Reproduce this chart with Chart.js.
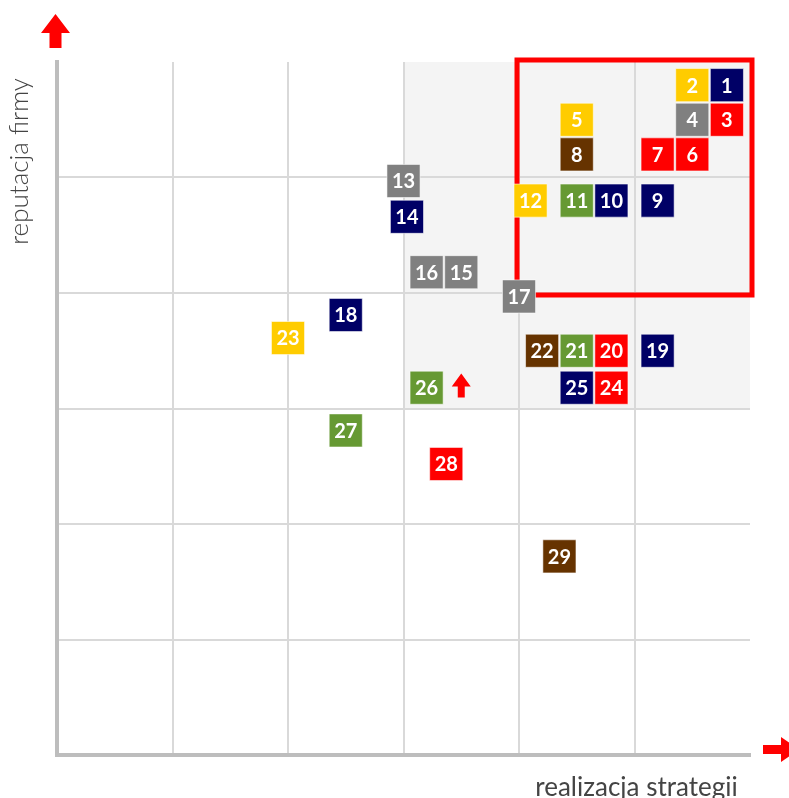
<!DOCTYPE html>
<html>
<head>
<meta charset="utf-8">
<script src="https://cdn.jsdelivr.net/npm/chart.js@4"></script>
<style>
  html, body { margin: 0; padding: 0; background: #fff; }
  #wrap { width: 789px; height: 798px; }
</style>
</head>
<body>
<div id="wrap"><canvas id="matrixChart" width="789" height="798"></canvas></div>
<script>
// firms: number, x = realizacja strategii, y = reputacja firmy (0..6)
const firmIds = [1, 2, 3, 4, 5, 6, 7, 8, 9, 10, 11, 12, 13, 14, 15, 16, 17, 18, 19, 20, 21, 22, 23, 24, 25, 26, 27, 28, 29];
const strategia = [5.8, 5.5, 5.8, 5.5, 4.5, 5.5, 5.2, 4.5, 5.2, 4.8, 4.5, 4.1, 3.0, 3.03, 3.5, 3.2, 4.0, 2.5, 5.2, 4.8, 4.5, 4.2, 2.0, 4.8, 4.5, 3.2, 2.5, 3.37, 4.35];
const reputacja = [5.8, 5.8, 5.5, 5.5, 5.5, 5.2, 5.2, 5.2, 4.8, 4.8, 4.8, 4.8, 4.97, 4.66, 4.18, 4.18, 3.97, 3.81, 3.5, 3.5, 3.5, 3.5, 3.61, 3.18, 3.18, 3.18, 2.81, 2.52, 1.72];
const firmGroups = ["navy", "yellow", "red", "gray", "yellow", "red", "red", "brown", "navy", "navy", "green", "yellow", "gray", "navy", "gray", "gray", "gray", "navy", "navy", "red", "green", "brown", "yellow", "red", "navy", "green", "green", "red", "brown"];

const axisTicks = [0, 1, 2, 3, 4, 5, 6];
const shadedZone = { xMin: 3, xMax: 6, yMin: 3, yMax: 6 };
const leaderZone = { xMin: 4, xMax: 6, yMin: 4, yMax: 6 };
const risingArrow = { x: 3.5, y: 3.2 };

const palette = {
  navy: "#000066",
  yellow: "#ffcc00",
  red: "#ff0000",
  gray: "#808080",
  brown: "#663300",
  green: "#669933",
};

function drawArrowUp(ctx, cx, tipY, headW, headH, shaftW, shaftH) {
  ctx.beginPath();
  ctx.moveTo(cx, tipY);
  ctx.lineTo(cx + headW / 2, tipY + headH);
  ctx.lineTo(cx + shaftW / 2, tipY + headH);
  ctx.lineTo(cx + shaftW / 2, tipY + headH + shaftH);
  ctx.lineTo(cx - shaftW / 2, tipY + headH + shaftH);
  ctx.lineTo(cx - shaftW / 2, tipY + headH);
  ctx.lineTo(cx - headW / 2, tipY + headH);
  ctx.closePath();
  ctx.fill();
}

const decorPlugin = {
  id: "decor",
  beforeDraw(chart) {
    const { ctx, scales } = chart;
    const x = scales.x, y = scales.y;
    ctx.save();
    ctx.fillStyle = "#f4f4f4";
    const l = x.getPixelForValue(shadedZone.xMin), r = x.getPixelForValue(shadedZone.xMax);
    const t = y.getPixelForValue(shadedZone.yMax), b = y.getPixelForValue(shadedZone.yMin);
    ctx.fillRect(l, t, r - l, b - t);
    ctx.restore();
  },
  beforeDatasetsDraw(chart) {
    const { ctx, scales } = chart;
    const x = scales.x, y = scales.y;
    ctx.save();
    ctx.strokeStyle = "#ff0000";
    ctx.lineWidth = 5;
    const l = x.getPixelForValue(leaderZone.xMin) - 2, r = x.getPixelForValue(leaderZone.xMax) + 2;
    const t = y.getPixelForValue(leaderZone.yMax) - 2, b = y.getPixelForValue(leaderZone.yMin) + 2;
    ctx.strokeRect(l, t, r - l, b - t);
    ctx.restore();
  },
  afterDatasetsDraw(chart) {
    const { ctx, scales, chartArea } = chart;
    const meta = chart.getDatasetMeta(0);
    ctx.save();
    ctx.fillStyle = "#ffffff";
    ctx.font = "bold 20px Lato";
    ctx.textAlign = "center";
    ctx.textBaseline = "middle";
    meta.data.forEach((pt, i) => {
      ctx.fillText(String(firmIds[i]), pt.x, pt.y + 1);
    });

    // arrows
    ctx.fillStyle = "#ff0000";
    const ax = scales.x.getPixelForValue(risingArrow.x);
    const ay = scales.y.getPixelForValue(risingArrow.y);
    drawArrowUp(ctx, ax, ay - 12, 19, 13, 7, 11);
    drawArrowUp(ctx, 55.5, 14, 29, 19, 12, 15);
    ctx.save();
    ctx.translate(chartArea.right + 13, 749.5);
    ctx.rotate(Math.PI / 2);
    drawArrowUp(ctx, 0, -36, 25, 18, 9, 18);
    ctx.restore();

    // axis titles
    ctx.fillStyle = "#444444";
    ctx.textBaseline = "alphabetic";
    ctx.font = "26px Lato";
    ctx.textAlign = "center";
    ctx.fillText("realizacja strategii", 636.5, 796);
    ctx.save();
    ctx.translate(28, 161.5);
    ctx.rotate(-Math.PI / 2);
    ctx.font = "300 26px Lato";
    ctx.fillText("reputacja firmy", 0, 0);
    ctx.restore();
    ctx.restore();
  },
};

const gridColor = (c) => (c.tick && c.tick.value === axisTicks[axisTicks.length - 1] ? "rgba(0,0,0,0)" : "#d9d9d9");

const chart = new Chart(document.getElementById("matrixChart").getContext("2d"), {
  type: "scatter",
  data: {
    datasets: [
      {
        label: "firmy",
        data: firmIds.map((id, i) => ({ x: strategia[i], y: reputacja[i] })),
        backgroundColor: firmGroups.map((g) => palette[g]),
        borderColor: "rgba(255,255,255,0.55)",
        borderWidth: 1,
        pointStyle: "rect",
        pointRadius: 23.4,
        pointHoverRadius: 23.4,
        clip: false,
      },
    ],
  },
  options: {
    responsive: false,
    animation: false,
    layout: { padding: { left: 57, top: 62, right: 39, bottom: 43 } },
    plugins: {
      legend: { display: false },
      tooltip: { enabled: false },
    },
    scales: {
      x: {
        type: "linear",
        min: axisTicks[0],
        max: axisTicks[axisTicks.length - 1],
        afterBuildTicks: (s) => { s.ticks = axisTicks.map((v) => ({ value: v })); },
        ticks: { display: false },
        grid: { drawTicks: false, color: gridColor, lineWidth: 2 },
        border: { color: "#bdbdbd", width: 4 },
      },
      y: {
        type: "linear",
        min: axisTicks[0],
        max: axisTicks[axisTicks.length - 1],
        afterBuildTicks: (s) => { s.ticks = axisTicks.map((v) => ({ value: v })); },
        ticks: { display: false },
        grid: { drawTicks: false, color: gridColor, lineWidth: 2 },
        border: { color: "#bdbdbd", width: 4 },
      },
    },
  },
  plugins: [decorPlugin],
});
</script>
</body>
</html>
